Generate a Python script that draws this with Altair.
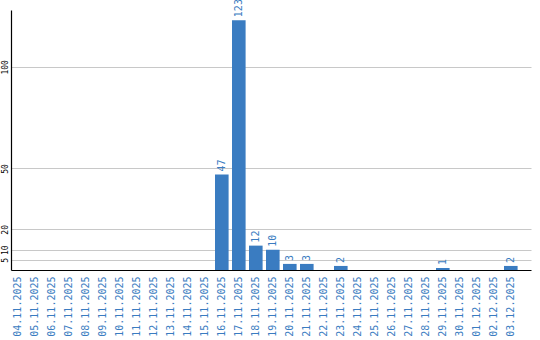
import altair as alt
import pandas as pd

dates = ["04.11.2025", "05.11.2025", "06.11.2025", "07.11.2025", "08.11.2025",
         "09.11.2025", "10.11.2025", "11.11.2025", "12.11.2025", "13.11.2025",
         "14.11.2025", "15.11.2025", "16.11.2025", "17.11.2025", "18.11.2025",
         "19.11.2025", "20.11.2025", "21.11.2025", "22.11.2025", "23.11.2025",
         "24.11.2025", "25.11.2025", "26.11.2025", "27.11.2025", "28.11.2025",
         "29.11.2025", "30.11.2025", "01.12.2025", "02.12.2025", "03.12.2025"]
counts = [0, 0, 0, 0, 0, 0, 0, 0, 0, 0,
          0, 0, 47, 123, 12, 10, 3, 3, 0, 2,
          0, 0, 0, 0, 0, 1, 0, 0, 0, 2]
y_ticks = [5, 10, 20, 50, 100]

df = pd.DataFrame({"date": dates, "count": counts})

BLUE = "#3a7cc1"
FONT = "DejaVu Sans Mono"

x_scale = alt.Scale(paddingInner=0.2, paddingOuter=0.394, align=0)

x_enc = alt.X(
    "date:N", sort=dates, title=None, scale=x_scale,
    axis=alt.Axis(labelAngle=270, labelAlign="right", labelBaseline="middle",
                  labelPadding=6, ticks=False, tickSize=0, labelColor=BLUE,
                  labelFont=FONT, labelFontSize=10, domainColor="black",
                  domainWidth=1.2, grid=False, labelOverlap=False),
)
y_enc = alt.Y(
    "count:Q", title=None,
    scale=alt.Scale(domain=[0, 128], nice=False, zero=True),
    axis=alt.Axis(values=y_ticks, labelAngle=270, labelAlign="center",
                  labelBaseline="middle", labelPadding=6, ticks=False, tickSize=0,
                  labelColor="black", labelFont=FONT, labelFontSize=8,
                  domainColor="black", domainWidth=1.2, grid=True,
                  gridColor="#c8c8c8", gridWidth=1),
)

bars = alt.Chart(df).mark_bar(color=BLUE).encode(x=x_enc, y=y_enc)

text = alt.Chart(df).transform_filter("datum.count > 0").mark_text(
    angle=270, align="left", baseline="middle", dx=3,
    font=FONT, fontSize=10, color=BLUE,
).encode(x=alt.X("date:N", sort=dates), y=alt.Y("count:Q"), text="count:Q")

chart = (bars + text).properties(
    width=520, height=260,
    autosize=alt.AutoSizeParams(type="none"),
    padding={"left": 11, "top": 10, "right": 9, "bottom": 70},
    background="white",
).configure_view(stroke=None)

chart.save("out.html", embed_options={"renderer": "svg", "actions": False})
